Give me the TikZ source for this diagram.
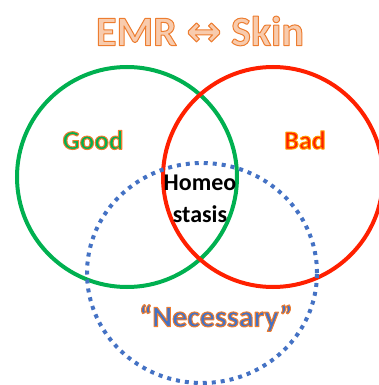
\documentclass[tikz,border=0pt]{standalone}
\usepackage{fontspec}
\setmainfont{Carlito}
\newfontfamily\arrowfont{DejaVu Sans}

\definecolor{goodgreen}{HTML}{00B050}
\definecolor{badred}{HTML}{FF2000}
\definecolor{needblue}{HTML}{4472C4}
\definecolor{paleorange}{HTML}{F8CBAD}

% outlined text: #1 = rim colour as rgb triple, #2 = text
\newcommand\rimmed[2]{\special{pdf:literal direct 2 Tr 1 w 1 j #1 RG}#2\special{pdf:literal direct 0 Tr}}
\def\rimorange{0.93 0.49 0.19}
\def\rimyellow{1 0.62 0}

\begin{document}
\begin{tikzpicture}[x=1pt, y=-1pt, font=\bfseries]
\useasboundingbox (0,0) rectangle (379,385);

% Draw the three sets
\def\rad{110pt}
\draw[line width=4pt, color=goodgreen] (127,177) circle (\rad);
\draw[line width=4pt, color=badred] (273,177) circle (\rad);
\draw[line width=4pt, color=needblue, dash pattern=on 4pt off 5pt] (202,273) ellipse (115pt and 110pt);

% label the sets
\node (title) at (200,31) {\fontsize{42}{44}\selectfont\textcolor{paleorange}{\rimmed{\rimorange}{EMR {\arrowfont ↔} Skin}}};
\node (good) at (93,140) {\fontsize{27}{29}\selectfont\textcolor{goodgreen}{\rimmed{\rimorange}{Good}}};
\node (bad) at (305,140) {\fontsize{26}{28}\selectfont\textcolor{badred}{\rimmed{\rimyellow}{Bad}}};
\node (homeo) [align=center, font=\bfseries\fontsize{24}{32}\selectfont] at (200,199) {Homeo\\ stasis};
\node (need) at (216,318) {\fontsize{30}{32}\selectfont\textcolor{needblue}{\rimmed{\rimorange}{“Necessary”}}};
\end{tikzpicture}
\end{document}
